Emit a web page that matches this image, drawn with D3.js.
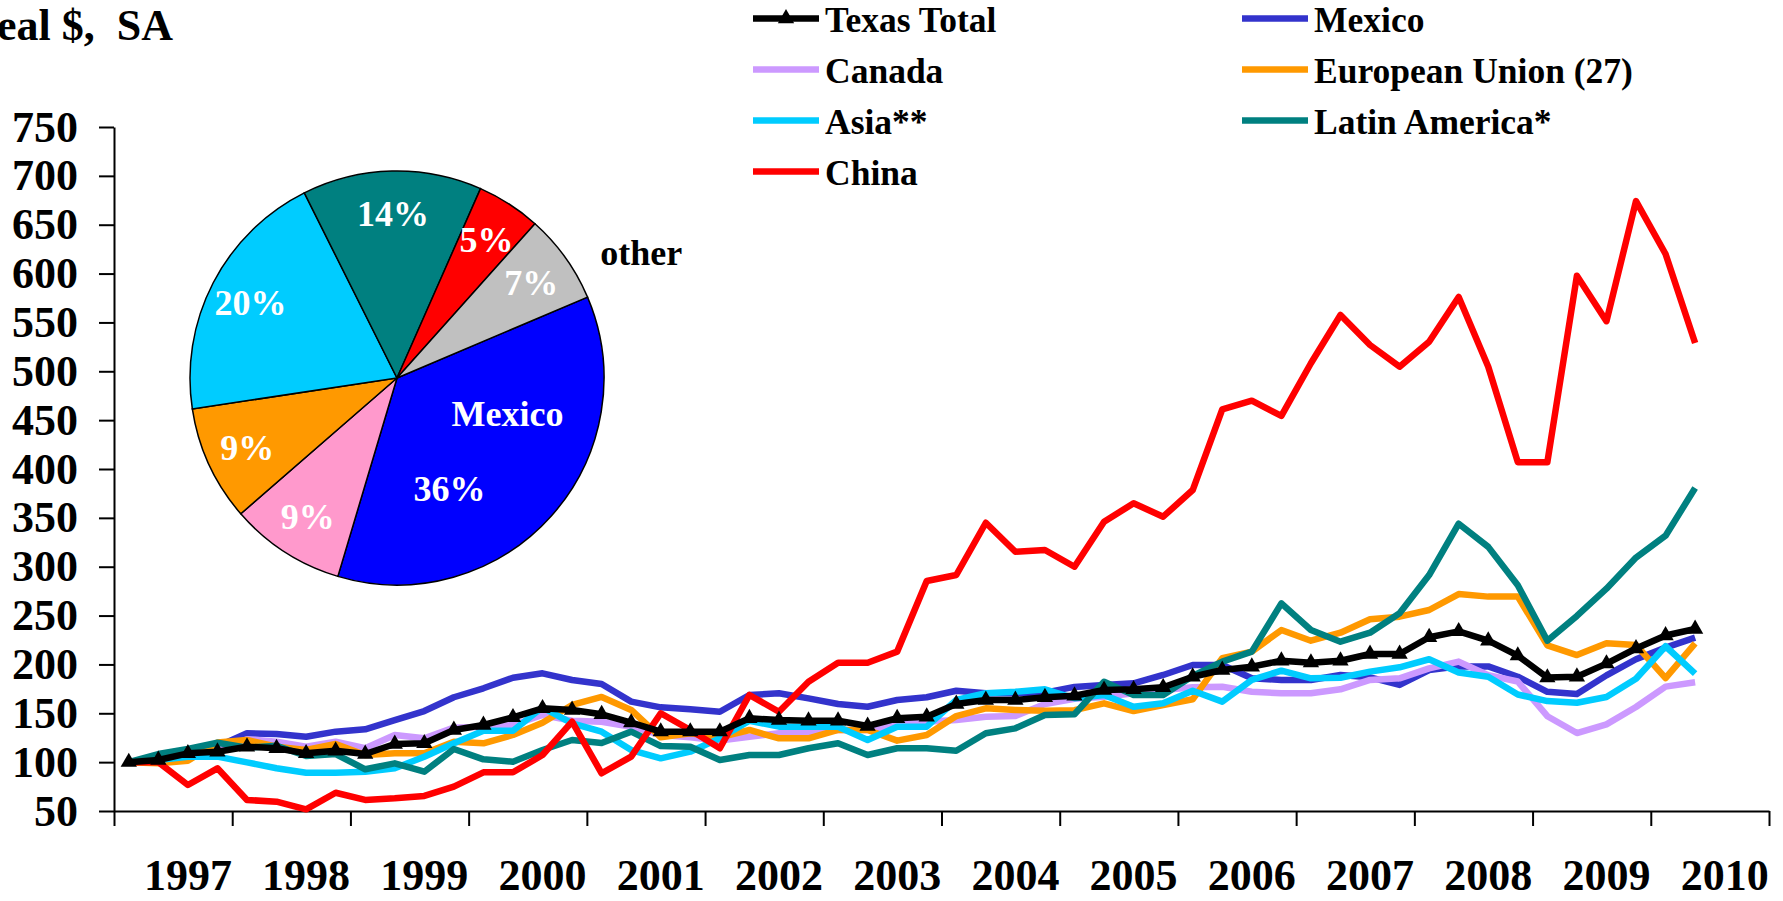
<!DOCTYPE html>
<html>
<head>
<meta charset="utf-8">
<script src="https://cdn.jsdelivr.net/npm/d3@7"></script>
<style>
body { margin: 0; background: #fff; }
svg text { font-family: "Liberation Serif", "Times New Roman", serif; font-weight: bold; }
</style>
</head>
<body>
<div class="chart"></div>
<script>
const years = [1997, 1998, 1999, 2000, 2001, 2002, 2003, 2004, 2005, 2006, 2007, 2008, 2009, 2010]
const yTicks = [50, 100, 150, 200, 250, 300, 350, 400, 450, 500, 550, 600, 650, 700, 750]

// quarterly categories, 1996 Q3 .. 2010 Q2
let quarters = ['1996 Q3', '1996 Q4']
years.forEach(yr => [1, 2, 3, 4].forEach(q => quarters.push(`${yr} Q${q}`)))
quarters = quarters.slice(0, 56)

const seriesNames = ['Texas Total', 'Mexico', 'Canada', 'European Union (27)', 'Asia**', 'Latin America*', 'China']

const texas = [100, 102.2, 109, 110.7, 115.8, 114.2, 109, 111.7, 108.3, 118.6, 119.3, 132.9, 138, 145.8, 155.1, 153.4,
  149, 140.4, 131.2, 131.2, 131.2, 144.9, 143.1, 142.4, 142.4, 137, 144.9, 146.5, 159.5, 163.6, 163.6, 166.4,
  168, 173.8, 174.5, 176.6, 187.4, 194.3, 197.7, 203.8, 201.8, 203.8, 210.7, 210.7, 227.8, 233.8, 224.3, 209,
  186.5, 187.4, 200.8, 216.3, 229.6, 236.3]
const mexico = [100, 101, 108, 116, 129.5, 128.8, 126, 131.2, 133.6, 143.1, 152.3, 166.4, 175.6, 186.4, 190.9, 184.1,
  180, 161.9, 156.1, 154.1, 151.6, 168.7, 170.5, 165.3, 159.5, 156.7, 163.6, 166.4, 173.1, 170.5, 170.5, 171.1,
  177, 179, 180.7, 189.2, 199.4, 199.4, 185.8, 184.1, 184.1, 189.2, 186.8, 179, 194.3, 198, 198, 187.4,
  172, 169.7, 188.8, 205.3, 217.2, 227.5]
const canada = [100, 104, 109, 112, 123.5, 120.9, 115.8, 120.9, 114.2, 127.8, 124.4, 135.3, 136.3, 138, 148.2, 142.4,
  141.4, 136.3, 127.8, 125.4, 122, 126, 129.5, 129.5, 132.9, 132.9, 138, 141.4, 143.1, 146.5, 147.2, 159.5,
  164.8, 167, 170.5, 173.8, 176.6, 177.2, 172.1, 170.5, 170.5, 174.5, 184.1, 185.8, 196, 202.9, 189, 182.5,
  147, 129.8, 138.7, 156.4, 177.3, 181.7]
const eu = [100, 98.8, 101.5, 120, 122.7, 115.8, 112.4, 118.6, 107.3, 109, 109, 120.9, 119.3, 127.8, 140.4, 158.5,
  166.7, 153.4, 125.4, 129.5, 125.4, 132.9, 124.4, 124.4, 132.9, 132.9, 122, 127.8, 147.2, 155.1, 153.4, 152.7,
  153.2, 160.2, 152.3, 158.5, 164.3, 206.3, 213.1, 235.2, 224.3, 232.5, 246.2, 248.9, 255.7, 272, 269.4, 269.4,
  219.5, 209.6, 221.6, 219.9, 186, 221.6]
const asia = [100, 102.2, 105.6, 105.6, 99.8, 93.7, 89.2, 89.2, 90.2, 93.7, 105.6, 119.3, 132.2, 132.2, 156.1, 139.7,
  131.2, 112.4, 103.9, 110.7, 124.4, 142.4, 136.3, 136.3, 136.3, 122.7, 136.3, 136.3, 163.6, 170.5, 172.1, 174.5,
  165.4, 168.7, 156.7, 160.2, 173.1, 161.9, 184.1, 193.6, 185.8, 186.4, 192.6, 197.1, 205.3, 191.8, 187.4, 169.2,
  162.5, 160.8, 166.7, 185.3, 218.6, 190.5]
const latam = [100, 108.3, 113.5, 119.9, 114.8, 116.8, 106.3, 108.3, 92.7, 98.8, 90.2, 113.5, 102.9, 100.5, 112.4, 122.7,
  119.5, 131.2, 116.5, 115.8, 102.2, 107.3, 107.3, 114.2, 119.3, 107.3, 114.2, 114.2, 111.7, 129.5, 134.6, 148.2,
  149, 182.3, 168.7, 168.7, 188.2, 202.8, 213.1, 262.5, 235.2, 223.3, 232.5, 252.3, 291.5, 344, 320.3, 281,
  224.3, 249.6, 277.5, 309.4, 331.7, 380.5]
const china = [100, 100, 76.6, 93.7, 61.3, 59.5, 51.7, 68.7, 61.3, 63, 65.4, 74.9, 89.6, 89.6, 107.3, 141.4,
  88.6, 105.6, 150, 132.9, 114.2, 168.7, 151.6, 182.3, 201.8, 201.8, 213.1, 285.4, 291.5, 345, 315.3, 317.1,
  300, 346.1, 364.9, 351.2, 378.5, 461.1, 469.9, 454.3, 508.2, 557.6, 526.9, 504.7, 530.3, 576, 504.7, 407,
  407, 597.8, 551.3, 674.2, 620, 529]

const pieNames = ['Mexico', 'Canada', 'European Union', 'Asia', 'Latin America', 'China', 'other']
const pieShares = [36, 9, 9, 20, 14, 5, 7]

const series = [texas, mexico, canada, eu, asia, latam, china]
const lineColors = ['#000000', '#3333CC', '#CC99FF', '#FF9900', '#00CCFF', '#008080', '#FF0000']
const pieColors = ['#0000FF', '#FF99CC', '#FF9900', '#00CCFF', '#008080', '#FF0000', '#C0C0C0']

const W = 1783, H = 901
const svg = d3.select('.chart').append('svg')
  .attr('width', W).attr('height', H)

const x = d3.scaleBand().domain(quarters).range([114, 1769])
const xb = d3.scaleLinear().domain([0, quarters.length]).range([114, 1769])
const y = d3.scaleLinear().domain([50, 750]).range([811, 127])
const cx = i => x(quarters[i]) + x.bandwidth() / 2

// y axis
const yAxis = svg.append('g')
  .attr('transform', 'translate(114,0)')
  .call(d3.axisLeft(y).tickValues(yTicks).tickSize(15).tickSizeOuter(0).tickPadding(21))
yAxis.selectAll('text').attr('font-size', 44).attr('fill', '#000')

// x axis: tick marks between years, labels under the first quarter
svg.append('g')
  .attr('transform', 'translate(0,811)')
  .call(d3.axisBottom(xb).tickValues(d3.range(0, quarters.length + 1, 4)).tickSize(15).tickSizeOuter(0).tickFormat(() => ''))

const xLab = svg.append('g')
  .attr('transform', 'translate(0,811)')
  .call(d3.axisBottom(x).tickValues(years.map(yr => `${yr} Q1`)).tickSize(0).tickPadding(48).tickFormat(d => d.slice(0, 4)))
xLab.select('.domain').remove()
xLab.selectAll('text').attr('font-size', 44).attr('fill', '#000')

svg.selectAll('.domain, .tick line').attr('stroke', '#000').attr('stroke-width', 2)

// title (runs off the left edge, as in the source)
svg.append('text')
  .attr('x', 173).attr('y', 40)
  .attr('text-anchor', 'end')
  .attr('font-size', 44)
  .style('white-space', 'pre')
  .text('Real $,  SA')

// lines
const line = d3.line().x((d, i) => cx(i)).y(d => y(d))
const drawOrder = [1, 2, 3, 4, 5, 6, 0]

svg.append('g')
  .selectAll('path')
  .data(drawOrder)
  .enter()
  .append('path')
  .attr('d', k => line(series[k]))
  .attr('fill', 'none')
  .attr('stroke', k => lineColors[k])
  .attr('stroke-width', 6.5)
  .attr('stroke-linejoin', 'round')

const tri = d3.symbol().type(d3.symbolTriangle).size(115)

svg.append('g')
  .selectAll('path')
  .data(texas)
  .enter()
  .append('path')
  .attr('d', tri)
  .attr('transform', (d, i) => `translate(${cx(i)},${y(d)})`)
  .attr('fill', '#000')

// legend
const legend = svg.append('g')
seriesNames.forEach((name, k) => {
  const lx = k % 2 === 0 ? 753 : 1242
  const ly = 18.5 + Math.floor(k / 2) * 51
  legend.append('line')
    .attr('x1', lx).attr('x2', lx + 66)
    .attr('y1', ly).attr('y2', ly)
    .attr('stroke', lineColors[k])
    .attr('stroke-width', 6.5)
  if (k === 0) {
    legend.append('path')
      .attr('d', tri)
      .attr('transform', `translate(${lx + 33},${ly})`)
      .attr('fill', '#000')
  }
  legend.append('text')
    .attr('x', lx + 72).attr('y', ly + 13.5)
    .attr('font-size', 35.5)
    .text(name)
})

// pie
const start = 67 * Math.PI / 180
const pie = d3.pie().sort(null).startAngle(start).endAngle(start + 2 * Math.PI)
const arc = d3.arc().innerRadius(0).outerRadius(207)
const labelArc = d3.arc().innerRadius(165).outerRadius(165)
const mexArc = d3.arc().innerRadius(120).outerRadius(120)

const pg = svg.append('g').attr('transform', 'translate(397,378)')
const slices = pie(pieShares)

pg.selectAll('path')
  .data(slices)
  .enter()
  .append('path')
  .attr('d', arc)
  .attr('fill', (d, i) => pieColors[i])
  .attr('stroke', '#000')
  .attr('stroke-width', 1.5)

slices.forEach((d, i) => {
  if (i === 0) {
    const [mx, my] = mexArc.centroid(d)
    pg.append('text').attr('x', mx + 21).attr('y', my - 45).attr('dy', '0.35em')
      .attr('text-anchor', 'middle').attr('font-size', 36).attr('fill', '#fff').text(pieNames[0])
    pg.append('text').attr('x', mx - 37).attr('y', my + 30).attr('dy', '0.35em')
      .attr('text-anchor', 'middle').attr('font-size', 36).attr('fill', '#fff').text(`${d.data}%`)
    return
  }
  const [lx, ly] = labelArc.centroid(d)
  pg.append('text').attr('x', lx).attr('y', ly).attr('dy', '0.35em')
    .attr('text-anchor', 'middle').attr('font-size', 36).attr('fill', '#fff').text(`${d.data}%`)
  if (pieNames[i] === 'other') {
    pg.append('text').attr('x', lx + 110).attr('y', ly - 30).attr('dy', '0.35em')
      .attr('text-anchor', 'middle').attr('font-size', 36).attr('fill', '#000').text('other')
  }
})
</script>
</body>
</html>
